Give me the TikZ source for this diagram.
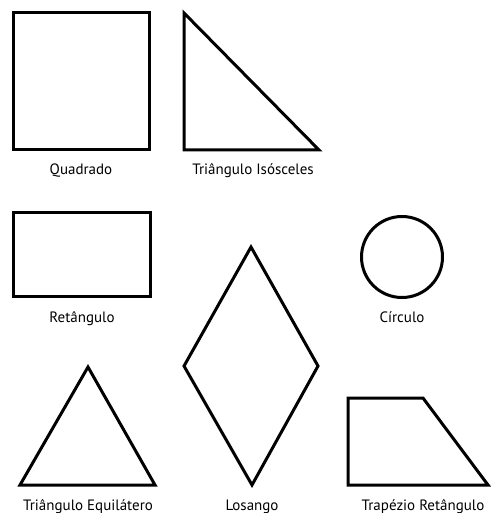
\documentclass[tikz,border=0pt]{standalone}
\usepackage{fontspec}
\setmainfont{PT Sans}
\begin{document}
\begin{tikzpicture}[x=1pt,y=-1pt,
  figline/.style={draw=black,line width=3pt,line join=miter},
  lbl/.style={font=\fontsize{15}{17}\selectfont,inner sep=0pt,anchor=base}]
\useasboundingbox (0,0) rectangle (490,513);
% Quadrado
\draw[figline] (13,13) rectangle (149,150);
\node[lbl] (lq) at (81,175) {Quadrado};
% Triangulo Isosceles
\coordinate (ta) at (184,13);
\coordinate (tb) at (184,150);
\coordinate (tc) at (319,150);
\draw[figline] (ta) -- (tb) -- (tc) -- cycle;
\node[lbl] (lti) at (253,175) {Triângulo Isósceles};
% Retangulo
\draw[figline] (13,212) rectangle (150,296);
\node[lbl] (lr) at (82,322) {Retângulo};
% Circulo
\draw[figline] (402,257) circle (40.5);
\node[lbl] (lc) at (402,322) {Círculo};
% Losango
\coordinate (l1) at (251,247);
\coordinate (l2) at (318,366);
\coordinate (l3) at (252,485);
\coordinate (l4) at (184,366);
\draw[figline] (l1) -- (l2) -- (l3) -- (l4) -- cycle;
\node[lbl] (ll) at (252,510) {Losango};
% Triangulo Equilatero
\coordinate (e1) at (88,367);
\coordinate (e2) at (155,485);
\coordinate (e3) at (20,485);
\draw[figline] (e1) -- (e2) -- (e3) -- cycle;
\node[lbl] (le) at (88,510) {Triângulo Equilátero};
% Trapezio Retangulo
\coordinate (p1) at (348,398);
\coordinate (p2) at (423,398);
\coordinate (p3) at (488,485);
\coordinate (p4) at (348,485);
\draw[figline] (p1) -- (p2) -- (p3) -- (p4) -- cycle;
\node[lbl] (lp) at (423,510) {Trapézio Retângulo};
\end{tikzpicture}
\end{document}
